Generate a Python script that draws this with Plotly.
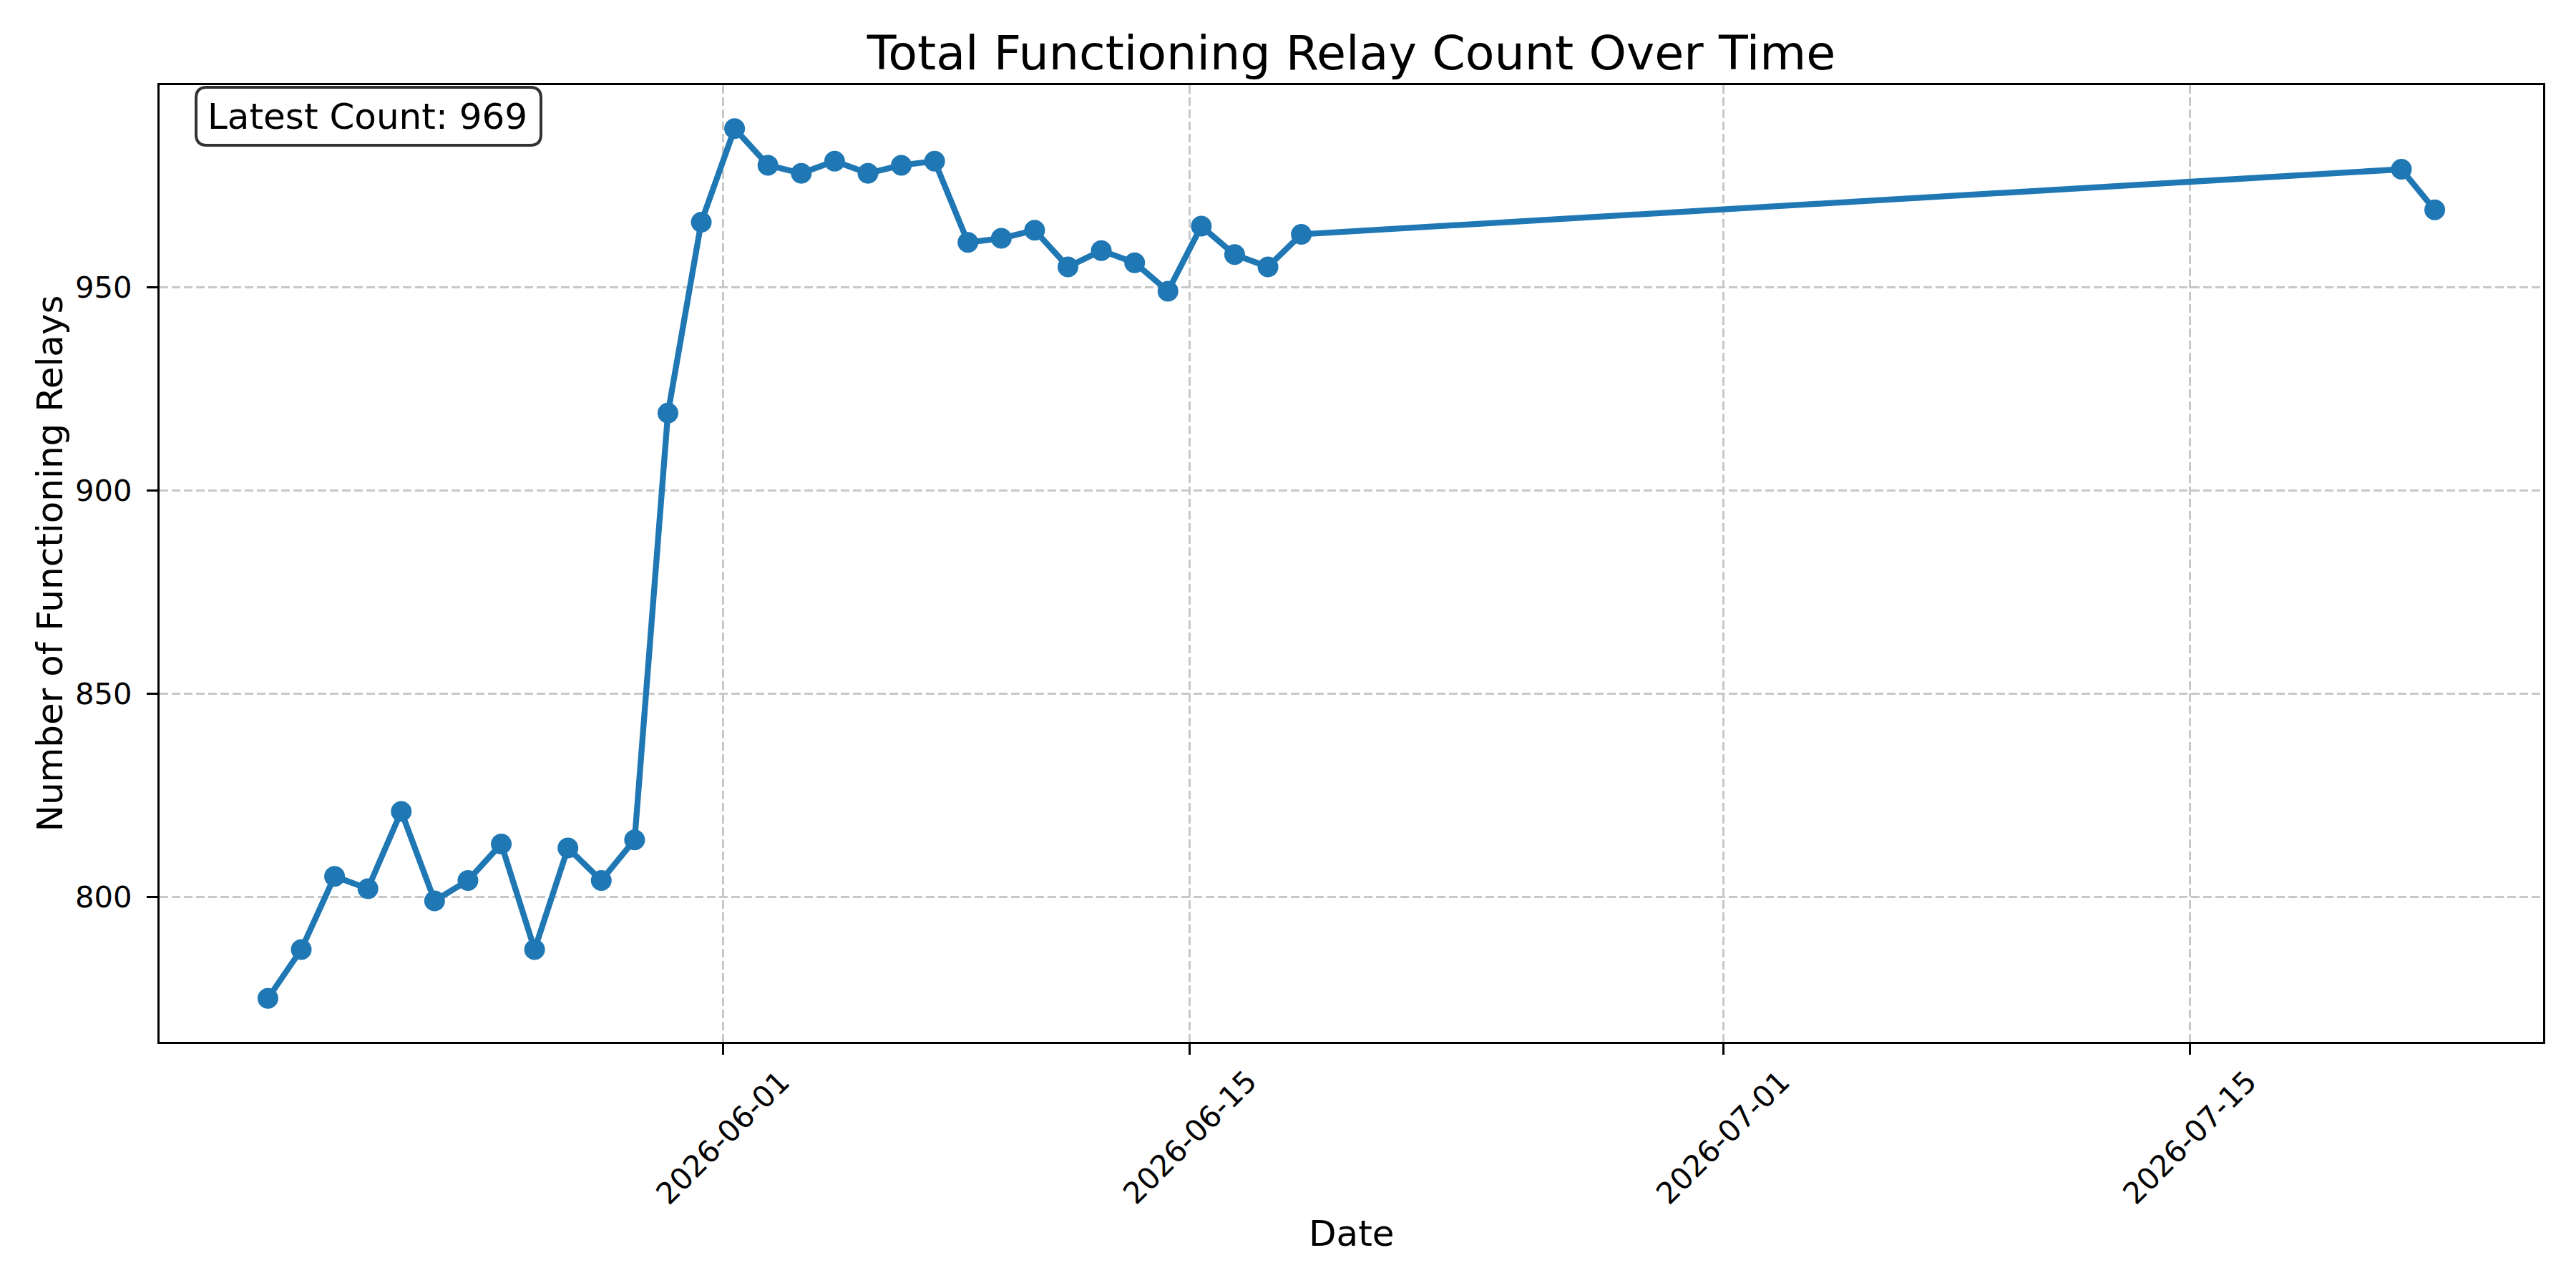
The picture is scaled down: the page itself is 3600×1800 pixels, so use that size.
import plotly.graph_objects as go

# ---- data ----
timestamps = [
    "2026-05-18 08:20", "2026-05-19 08:20", "2026-05-20 08:20", "2026-05-21 08:20",
    "2026-05-22 08:20", "2026-05-23 08:20", "2026-05-24 08:20", "2026-05-25 08:20",
    "2026-05-26 08:20", "2026-05-27 08:20", "2026-05-28 08:20", "2026-05-29 08:20",
    "2026-05-30 08:20", "2026-05-31 08:20", "2026-06-01 08:20", "2026-06-02 08:20",
    "2026-06-03 08:20", "2026-06-04 08:20", "2026-06-05 08:20", "2026-06-06 08:20",
    "2026-06-07 08:20", "2026-06-08 08:20", "2026-06-09 08:20", "2026-06-10 08:20",
    "2026-06-11 08:20", "2026-06-12 08:20", "2026-06-13 08:20", "2026-06-14 08:20",
    "2026-06-15 08:20", "2026-06-16 08:20", "2026-06-17 08:20", "2026-06-18 08:20",
    "2026-07-21 08:20", "2026-07-22 08:20",
]
relay_counts = [
    775, 787, 805, 802, 821, 799, 804, 813, 787, 812, 804, 814,
    919, 966, 989, 980, 978, 981, 978, 980, 981,
    961, 962, 964, 955, 959, 956, 949,
    965, 958, 955, 963,
    979, 969,
]
xtick_values = ["2026-06-01", "2026-06-15", "2026-07-01", "2026-07-15"]
xtick_labels = ["2026-06-01", "2026-06-15", "2026-07-01", "2026-07-15"]
ytick_values = [800, 850, 900, 950]
x_range = ["2026-05-15 02:20", "2026-07-25 14:20"]
y_range = [764.3, 999.7]

title_text = "Total Functioning Relay Count Over Time"
x_title = "Date"
y_title = "Number of Functioning Relays"
latest_text = f"Latest Count: {relay_counts[-1]}"

# ---- layout geometry (pixels) ----
W, H = 3600, 1800
L, R, T, B = 223, 46, 119, 344
PW, PH = W - L - R, H - T - B
FONT = "DejaVu Sans"
BLUE = "#1f77b4"
GRID = "#c8c8c8"


def px_to_paper_x(px):
    return (px - L) / PW


def px_to_paper_y(py):
    return 1 - (py - T) / PH


fig = go.Figure()
fig.add_trace(go.Scatter(
    x=timestamps, y=relay_counts, mode="lines+markers",
    line=dict(color=BLUE, width=8.3),
    marker=dict(color=BLUE, size=29),
    showlegend=False, hoverinfo="x+y",
))

axis_common = dict(
    showline=True, linecolor="black", linewidth=3.3, mirror=True,
    ticks="outside", ticklen=15, tickwidth=3.3, tickcolor="black",
    showgrid=True, gridcolor=GRID, gridwidth=3.3, griddash="12px,5px",
    zeroline=False,
    tickfont=dict(family=FONT, size=41.7, color="black"),
)

fig.update_xaxes(
    type="date", range=x_range, tickmode="array", tickvals=xtick_values,
    showticklabels=False, **axis_common,
)
fig.update_yaxes(
    range=y_range, tickmode="array", tickvals=ytick_values,
    ticktext=[str(v) for v in ytick_values], ticklabelstandoff=12,
    **axis_common,
)

annotations = []
for v, lbl in zip(xtick_values, xtick_labels):
    annotations.append(dict(
        x=v, y=px_to_paper_y(1484), xref="x", yref="paper",
        text=lbl, textangle=-45, xanchor="center", yanchor="top",
        showarrow=False, font=dict(family=FONT, size=41.7, color="black"),
    ))

annotations.append(dict(
    x=0.5, y=px_to_paper_y(1724), xref="paper", yref="paper",
    text=x_title, showarrow=False, xanchor="center", yanchor="middle",
    font=dict(family=FONT, size=50, color="black"),
))
annotations.append(dict(
    x=px_to_paper_x(69), y=0.5, xref="paper", yref="paper",
    text=y_title, textangle=-90, showarrow=False, xanchor="center", yanchor="middle",
    font=dict(family=FONT, size=50, color="black"),
))
annotations.append(dict(
    x=px_to_paper_x(288), y=px_to_paper_y(162.5), xref="paper", yref="paper",
    text=latest_text, showarrow=False, xanchor="left", yanchor="middle",
    font=dict(family=FONT, size=50, color="black"),
))

# rounded box behind the latest-count text
bx0, bx1, by0, by1, rr = 274, 756, 122, 203, 15


def P(px, py):
    return f"{px_to_paper_x(px):.6f},{px_to_paper_y(py):.6f}"


path = (
    f"M {P(bx0 + rr, by0)} L {P(bx1 - rr, by0)} Q {P(bx1, by0)} {P(bx1, by0 + rr)} "
    f"L {P(bx1, by1 - rr)} Q {P(bx1, by1)} {P(bx1 - rr, by1)} "
    f"L {P(bx0 + rr, by1)} Q {P(bx0, by1)} {P(bx0, by1 - rr)} "
    f"L {P(bx0, by0 + rr)} Q {P(bx0, by0)} {P(bx0 + rr, by0)} Z"
)
shapes = [dict(
    type="path", path=path, xref="paper", yref="paper",
    fillcolor="rgba(255,255,255,0.8)", line=dict(color="#333333", width=4),
    layer="above",
)]

fig.update_layout(
    width=W, height=H,
    margin=dict(l=L, r=R, t=T, b=B, autoexpand=False),
    paper_bgcolor="white", plot_bgcolor="white",
    font=dict(family=FONT, color="black"),
    title=dict(
        text=title_text, x=0.5, xref="paper", xanchor="center",
        y=1 - 74 / H, yref="container", yanchor="middle",
        font=dict(family=FONT, size=66.7, color="black"),
    ),
    annotations=annotations, shapes=shapes,
)

fig.write_html("out.html")
